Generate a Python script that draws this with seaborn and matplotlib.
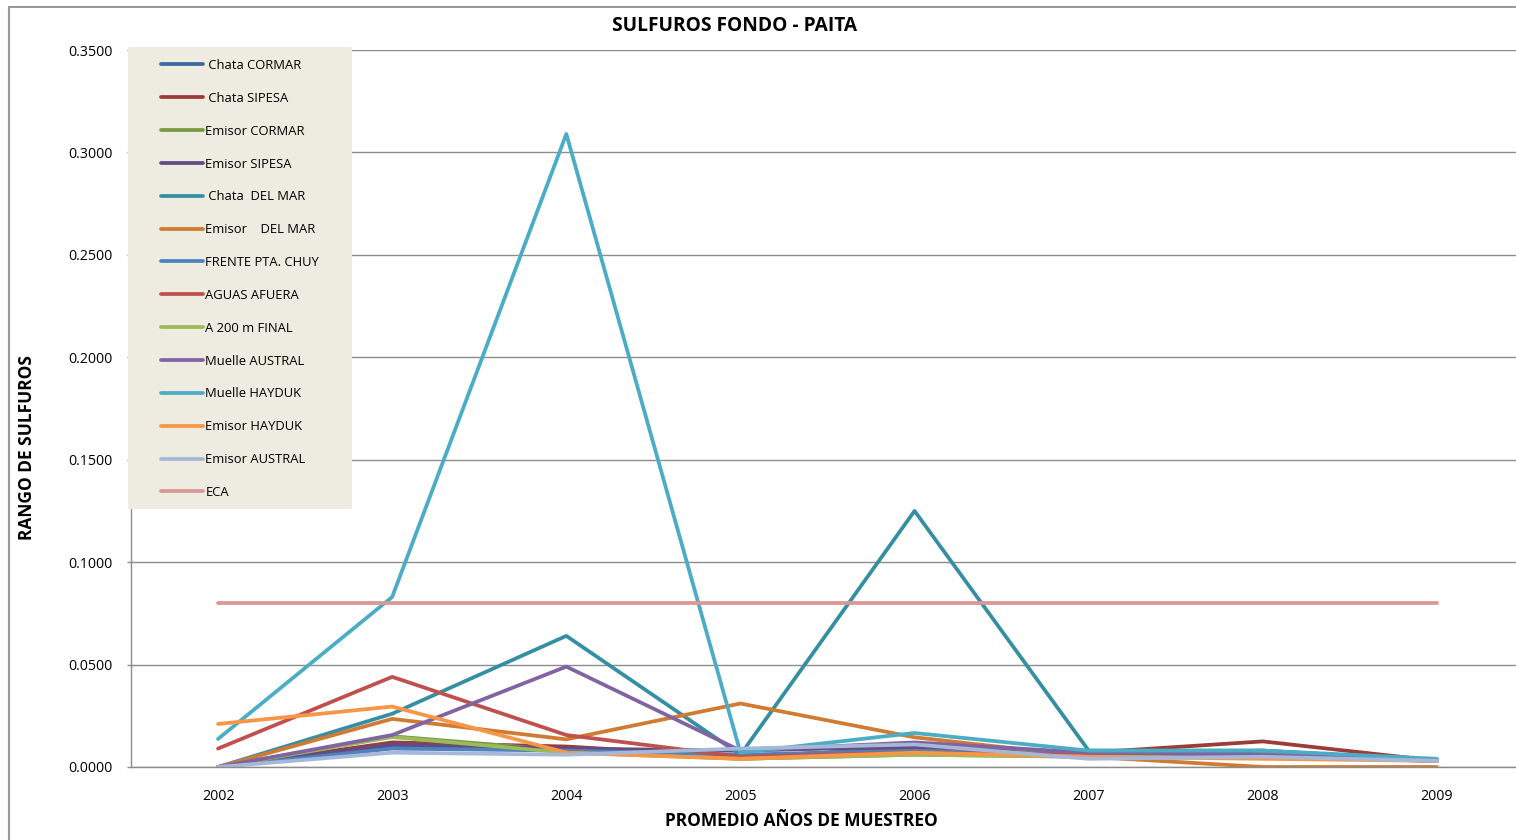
import matplotlib
matplotlib.use("Agg")
import matplotlib.pyplot as plt
from matplotlib.patches import Rectangle
from matplotlib.lines import Line2D
import seaborn as sns
import pandas as pd

years = [2002, 2003, 2004, 2005, 2006, 2007, 2008, 2009]

series_names = [
    " Chata CORMAR", " Chata SIPESA", "Emisor CORMAR", "Emisor SIPESA",
    " Chata  DEL MAR", "Emisor    DEL MAR", "FRENTE PTA. CHUY", "AGUAS AFUERA",
    "A 200 m FINAL", "Muelle AUSTRAL", "Muelle HAYDUK", "Emisor HAYDUK",
    "Emisor AUSTRAL", "ECA",
]

chata_cormar   = [0.0, 0.010, 0.009, 0.005, 0.009, 0.006, 0.006, 0.003]
chata_sipesa   = [0.0, 0.012, 0.010, 0.005, 0.009, 0.007, 0.0125, 0.003]
emisor_cormar  = [0.0, 0.015, 0.008, 0.004, 0.006, 0.005, 0.008, 0.003]
emisor_sipesa  = [0.0, 0.011, 0.009, 0.008, 0.010, 0.007, 0.006, 0.003]
chata_delmar   = [0.0, 0.026, 0.064, 0.006, 0.125, 0.008, 0.008, 0.003]
emisor_delmar  = [0.0, 0.0235, 0.0135, 0.031, 0.0145, 0.005, 0.0, 0.0]
frente_chuy    = [0.0, 0.009, 0.008, 0.006, 0.008, 0.006, 0.005, 0.003]
aguas_afuera   = [0.009, 0.044, 0.0156, 0.005, 0.007, 0.006, 0.005, 0.003]
a200_final     = [0.0, 0.0146, 0.007, 0.004, 0.006, 0.005, 0.006, 0.003]
muelle_austral = [0.0, 0.0156, 0.049, 0.008, 0.012, 0.007, 0.006, 0.003]
muelle_hayduk  = [0.0137, 0.083, 0.309, 0.007, 0.0166, 0.008, 0.008, 0.004]
emisor_hayduk  = [0.021, 0.0295, 0.007, 0.004, 0.007, 0.005, 0.004, 0.003]
emisor_austral = [0.0, 0.007, 0.006, 0.009, 0.011, 0.004, 0.005, 0.003]
eca            = [0.08, 0.08, 0.08, 0.08, 0.08, 0.08, 0.08, 0.08]

values = [chata_cormar, chata_sipesa, emisor_cormar, emisor_sipesa, chata_delmar,
          emisor_delmar, frente_chuy, aguas_afuera, a200_final, muelle_austral,
          muelle_hayduk, emisor_hayduk, emisor_austral, eca]

colors = ["#3C67A2", "#9C3B38", "#779A43", "#624C82", "#358FA3", "#D07A32",
          "#4F81BD", "#C0504D", "#9BBB59", "#8064A2", "#4BACC6", "#F79646",
          "#A5B8D9", "#D99795"]

yticks = [0.0, 0.05, 0.10, 0.15, 0.20, 0.25, 0.30, 0.35]

rows = []
for name, vals in zip(series_names, values):
    for yr, v in zip(years, vals):
        rows.append({"year": yr, "value": v, "serie": name})
df = pd.DataFrame(rows)

sns.set_theme(style="white")
plt.rcParams["font.family"] = ["Open Sans", "DejaVu Sans"]
plt.rcParams["text.color"] = "black"
plt.rcParams["xtick.color"] = "black"
plt.rcParams["ytick.color"] = "black"

W, H = 1516, 840
fig = plt.figure(figsize=(W / 100, H / 100), dpi=100)

def fx(px):
    return px / W

def fy(py):
    return 1 - py / H

ax = fig.add_axes([fx(131), fy(767), fx(1524) - fx(131), fy(50) - fy(767)])

palette = dict(zip(series_names, colors))
sns.lineplot(data=df, x="year", y="value", hue="serie", hue_order=series_names,
             palette=palette, linewidth=2.7, sort=False, legend=False, ax=ax,
             solid_joinstyle="round", solid_capstyle="round")

ax.set_xlim(2001.5, 2009.5)
ax.set_ylim(0, 0.35)
ax.set_xticks(years)
ax.set_xticklabels([str(y) for y in years], fontsize=10.3)
ax.set_yticks(yticks)
ax.set_yticklabels([f"{t:.4f}" for t in yticks], fontsize=10.3)
ax.grid(axis="y", color="#8C8C8C", linewidth=1.0)
ax.grid(axis="x", visible=False)
ax.set_axisbelow(True)
for s in ["top", "right"]:
    ax.spines[s].set_visible(False)
for s in ["left", "bottom"]:
    ax.spines[s].set_color("#8C8C8C")
    ax.spines[s].set_linewidth(1.0)
ax.tick_params(axis="y", which="both", left=True, length=3, width=1.0,
               color="#8C8C8C", pad=10, labelcolor="black")
ax.tick_params(axis="x", bottom=False, pad=10, labelcolor="black")
ax.set_xlabel("")
ax.set_ylabel("")

# figure border (only top and left edges visible)
fig.add_artist(Line2D([fx(9), fx(9)], [fy(7), fy(850)], transform=fig.transFigure,
                      color="#9A9A9A", linewidth=1.5, zorder=0))
fig.add_artist(Line2D([fx(9), fx(1530)], [fy(7), fy(7)], transform=fig.transFigure,
                      color="#9A9A9A", linewidth=1.5, zorder=0))

# titles
fig.text(fx(735), fy(26), "SULFUROS FONDO - PAITA", ha="center", va="center",
         fontsize=13.8, fontweight="bold", color="black")
fig.text(fx(27), fy(447), "RANGO DE SULFUROS", ha="center", va="center",
         rotation=90, fontsize=12.5, fontweight="bold", color="black")
fig.text(fx(801), fy(821), "PROMEDIO AÑOS DE MUESTREO", ha="center", va="center",
         fontsize=12.5, fontweight="bold", color="black")

# legend background
fig.patches.append(Rectangle((fx(128), fy(509)), fx(352) - fx(128), fy(47) - fy(509),
                             transform=fig.transFigure, facecolor="#EEECE1",
                             edgecolor="none", zorder=3))

handles = [Line2D([0], [0], color=c, linewidth=2.7, solid_capstyle="round")
           for c in colors]
leg = fig.legend(handles, series_names, loc="upper left",
                 bbox_to_anchor=(fx(161), fy(59)), frameon=False,
                 fontsize=9.4, handlelength=3.2, handletextpad=0.2,
                 labelspacing=1.52, borderpad=0, borderaxespad=0,
                 labelcolor="black")
leg.set_zorder(4)

fig.savefig("out.png", dpi=100)
